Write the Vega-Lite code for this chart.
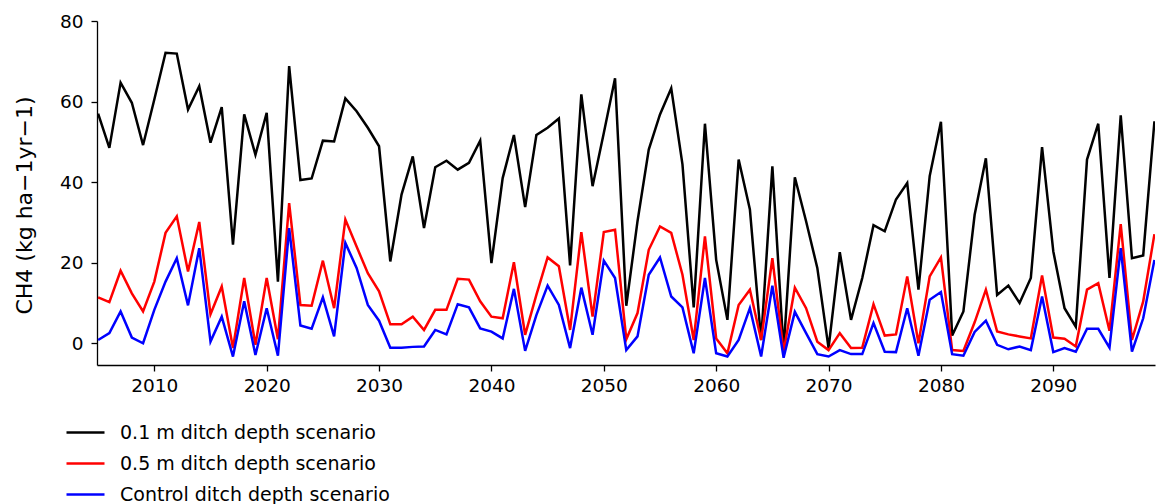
{
  "$schema": "https://vega.github.io/schema/vega-lite/v6.json",
  "autosize": {"type": "none"},
  "width": 1058,
  "height": 344,
  "padding": {"left": 97, "top": 21, "right": 5, "bottom": 139},
  "background": "white",
  "config": {
    "view": {"stroke": null},
    "font": "DejaVu Sans",
    "axis": {
      "grid": false,
      "domainColor": "#000000",
      "domainWidth": 1.3,
      "tickColor": "#000000",
      "tickWidth": 1.3,
      "tickSize": 6,
      "labelColor": "#000000",
      "labelFont": "DejaVu Sans",
      "labelFontSize": 18.5,
      "titleFont": "DejaVu Sans",
      "titleColor": "#000000",
      "titleFontWeight": "normal"
    },
    "legend": {
      "labelFont": "DejaVu Sans",
      "labelFontSize": 19,
      "labelColor": "#000000",
      "labelLimit": 500,
      "padding": 0
    }
  },
  "datasets": {
    "d01": [
      {"year": 2005, "value": 57.0}, {"year": 2006, "value": 48.5}, {"year": 2007, "value": 64.7}, {"year": 2008, "value": 59.7}, {"year": 2009, "value": 49.2},
      {"year": 2010, "value": 60.5}, {"year": 2011, "value": 72.1}, {"year": 2012, "value": 71.9}, {"year": 2013, "value": 58.0}, {"year": 2014, "value": 63.8},
      {"year": 2015, "value": 49.8}, {"year": 2016, "value": 58.6}, {"year": 2017, "value": 24.5}, {"year": 2018, "value": 56.8}, {"year": 2019, "value": 46.8},
      {"year": 2020, "value": 57.2}, {"year": 2021, "value": 15.3}, {"year": 2022, "value": 68.8}, {"year": 2023, "value": 40.5}, {"year": 2024, "value": 40.9},
      {"year": 2025, "value": 50.3}, {"year": 2026, "value": 50.1}, {"year": 2027, "value": 60.8}, {"year": 2028, "value": 57.6}, {"year": 2029, "value": 53.5},
      {"year": 2030, "value": 48.9}, {"year": 2031, "value": 20.3}, {"year": 2032, "value": 36.9}, {"year": 2033, "value": 46.4}, {"year": 2034, "value": 28.6},
      {"year": 2035, "value": 43.7}, {"year": 2036, "value": 45.3}, {"year": 2037, "value": 43.1}, {"year": 2038, "value": 44.8}, {"year": 2039, "value": 50.3},
      {"year": 2040, "value": 19.9}, {"year": 2041, "value": 41.0}, {"year": 2042, "value": 51.7}, {"year": 2043, "value": 33.8}, {"year": 2044, "value": 51.7},
      {"year": 2045, "value": 53.5}, {"year": 2046, "value": 55.8}, {"year": 2047, "value": 19.3}, {"year": 2048, "value": 61.8}, {"year": 2049, "value": 39.0},
      {"year": 2050, "value": 52.2}, {"year": 2051, "value": 65.8}, {"year": 2052, "value": 9.3}, {"year": 2053, "value": 30.3}, {"year": 2054, "value": 48.1},
      {"year": 2055, "value": 56.8}, {"year": 2056, "value": 63.3}, {"year": 2057, "value": 44.4}, {"year": 2058, "value": 8.9}, {"year": 2059, "value": 54.5},
      {"year": 2060, "value": 20.7}, {"year": 2061, "value": 5.8}, {"year": 2062, "value": 45.6}, {"year": 2063, "value": 33.2}, {"year": 2064, "value": 0.8},
      {"year": 2065, "value": 43.9}, {"year": 2066, "value": -1.7}, {"year": 2067, "value": 41.2}, {"year": 2068, "value": 30.3}, {"year": 2069, "value": 18.7},
      {"year": 2070, "value": -1.2}, {"year": 2071, "value": 22.6}, {"year": 2072, "value": 5.8}, {"year": 2073, "value": 16.2}, {"year": 2074, "value": 29.3},
      {"year": 2075, "value": 27.8}, {"year": 2076, "value": 35.7}, {"year": 2077, "value": 39.8}, {"year": 2078, "value": 13.3}, {"year": 2079, "value": 41.5},
      {"year": 2080, "value": 55.0}, {"year": 2081, "value": 1.9}, {"year": 2082, "value": 7.9}, {"year": 2083, "value": 31.9}, {"year": 2084, "value": 45.9},
      {"year": 2085, "value": 12.0}, {"year": 2086, "value": 14.3}, {"year": 2087, "value": 10.0}, {"year": 2088, "value": 16.2}, {"year": 2089, "value": 48.7},
      {"year": 2090, "value": 22.8}, {"year": 2091, "value": 8.7}, {"year": 2092, "value": 4.1}, {"year": 2093, "value": 45.6}, {"year": 2094, "value": 54.5},
      {"year": 2095, "value": 16.2}, {"year": 2096, "value": 56.6}, {"year": 2097, "value": 21.1}, {"year": 2098, "value": 21.8}, {"year": 2099, "value": 55.1}
    ],
    "d05": [
      {"year": 2005, "value": 11.4}, {"year": 2006, "value": 10.2}, {"year": 2007, "value": 18.0}, {"year": 2008, "value": 12.4}, {"year": 2009, "value": 7.9},
      {"year": 2010, "value": 15.3}, {"year": 2011, "value": 27.4}, {"year": 2012, "value": 31.5}, {"year": 2013, "value": 17.8}, {"year": 2014, "value": 30.1},
      {"year": 2015, "value": 7.2}, {"year": 2016, "value": 14.1}, {"year": 2017, "value": -1.2}, {"year": 2018, "value": 16.2}, {"year": 2019, "value": -0.4},
      {"year": 2020, "value": 16.2}, {"year": 2021, "value": 1.0}, {"year": 2022, "value": 34.8}, {"year": 2023, "value": 9.5}, {"year": 2024, "value": 9.3},
      {"year": 2025, "value": 20.5}, {"year": 2026, "value": 8.7}, {"year": 2027, "value": 30.7}, {"year": 2028, "value": 24.0}, {"year": 2029, "value": 17.4},
      {"year": 2030, "value": 12.9}, {"year": 2031, "value": 4.7}, {"year": 2032, "value": 4.7}, {"year": 2033, "value": 6.6}, {"year": 2034, "value": 3.3},
      {"year": 2035, "value": 8.3}, {"year": 2036, "value": 8.3}, {"year": 2037, "value": 16.0}, {"year": 2038, "value": 15.8}, {"year": 2039, "value": 10.4},
      {"year": 2040, "value": 6.6}, {"year": 2041, "value": 6.2}, {"year": 2042, "value": 20.1}, {"year": 2043, "value": 2.1}, {"year": 2044, "value": 12.0},
      {"year": 2045, "value": 21.3}, {"year": 2046, "value": 19.1}, {"year": 2047, "value": 3.3}, {"year": 2048, "value": 27.6}, {"year": 2049, "value": 6.6},
      {"year": 2050, "value": 27.6}, {"year": 2051, "value": 28.2}, {"year": 2052, "value": 1.0}, {"year": 2053, "value": 7.5}, {"year": 2054, "value": 23.2},
      {"year": 2055, "value": 29.0}, {"year": 2056, "value": 27.4}, {"year": 2057, "value": 17.0}, {"year": 2058, "value": 0.8}, {"year": 2059, "value": 26.5},
      {"year": 2060, "value": 1.2}, {"year": 2061, "value": -2.5}, {"year": 2062, "value": 9.5}, {"year": 2063, "value": 13.3}, {"year": 2064, "value": 0.8},
      {"year": 2065, "value": 21.1}, {"year": 2066, "value": -2.1}, {"year": 2067, "value": 13.8}, {"year": 2068, "value": 8.7}, {"year": 2069, "value": 0.4},
      {"year": 2070, "value": -1.7}, {"year": 2071, "value": 2.5}, {"year": 2072, "value": -1.2}, {"year": 2073, "value": -1.1}, {"year": 2074, "value": 9.7},
      {"year": 2075, "value": 1.9}, {"year": 2076, "value": 2.2}, {"year": 2077, "value": 16.6}, {"year": 2078, "value": 0.0}, {"year": 2079, "value": 16.6},
      {"year": 2080, "value": 21.3}, {"year": 2081, "value": -1.7}, {"year": 2082, "value": -1.9}, {"year": 2083, "value": 5.2}, {"year": 2084, "value": 13.3},
      {"year": 2085, "value": 2.9}, {"year": 2086, "value": 2.2}, {"year": 2087, "value": 1.7}, {"year": 2088, "value": 1.2}, {"year": 2089, "value": 16.8},
      {"year": 2090, "value": 1.4}, {"year": 2091, "value": 1.1}, {"year": 2092, "value": -0.8}, {"year": 2093, "value": 13.3}, {"year": 2094, "value": 14.9},
      {"year": 2095, "value": 3.1}, {"year": 2096, "value": 29.6}, {"year": 2097, "value": 0.8}, {"year": 2098, "value": 10.4}, {"year": 2099, "value": 27.1}
    ],
    "dctl": [
      {"year": 2005, "value": 0.8}, {"year": 2006, "value": 2.5}, {"year": 2007, "value": 7.9}, {"year": 2008, "value": 1.4}, {"year": 2009, "value": 0.0},
      {"year": 2010, "value": 8.3}, {"year": 2011, "value": 15.3}, {"year": 2012, "value": 21.1}, {"year": 2013, "value": 9.4}, {"year": 2014, "value": 23.6},
      {"year": 2015, "value": 0.4}, {"year": 2016, "value": 6.6}, {"year": 2017, "value": -3.3}, {"year": 2018, "value": 10.4}, {"year": 2019, "value": -2.9},
      {"year": 2020, "value": 8.7}, {"year": 2021, "value": -3.1}, {"year": 2022, "value": 28.6}, {"year": 2023, "value": 4.4}, {"year": 2024, "value": 3.6},
      {"year": 2025, "value": 11.4}, {"year": 2026, "value": 1.7}, {"year": 2027, "value": 24.9}, {"year": 2028, "value": 18.7}, {"year": 2029, "value": 9.5},
      {"year": 2030, "value": 5.6}, {"year": 2031, "value": -1.1}, {"year": 2032, "value": -1.1}, {"year": 2033, "value": -0.9}, {"year": 2034, "value": -0.8},
      {"year": 2035, "value": 3.3}, {"year": 2036, "value": 2.2}, {"year": 2037, "value": 9.7}, {"year": 2038, "value": 8.9}, {"year": 2039, "value": 3.7},
      {"year": 2040, "value": 2.9}, {"year": 2041, "value": 1.2}, {"year": 2042, "value": 13.5}, {"year": 2043, "value": -1.9}, {"year": 2044, "value": 7.0},
      {"year": 2045, "value": 14.3}, {"year": 2046, "value": 9.5}, {"year": 2047, "value": -1.2}, {"year": 2048, "value": 13.8}, {"year": 2049, "value": 2.1},
      {"year": 2050, "value": 20.5}, {"year": 2051, "value": 16.2}, {"year": 2052, "value": -1.7}, {"year": 2053, "value": 1.7}, {"year": 2054, "value": 17.0},
      {"year": 2055, "value": 21.3}, {"year": 2056, "value": 11.6}, {"year": 2057, "value": 8.9}, {"year": 2058, "value": -2.5}, {"year": 2059, "value": 16.2},
      {"year": 2060, "value": -2.5}, {"year": 2061, "value": -3.3}, {"year": 2062, "value": 0.8}, {"year": 2063, "value": 8.7}, {"year": 2064, "value": -3.3},
      {"year": 2065, "value": 14.3}, {"year": 2066, "value": -3.6}, {"year": 2067, "value": 7.8}, {"year": 2068, "value": 2.5}, {"year": 2069, "value": -2.7},
      {"year": 2070, "value": -3.3}, {"year": 2071, "value": -1.7}, {"year": 2072, "value": -2.7}, {"year": 2073, "value": -2.7}, {"year": 2074, "value": 5.0},
      {"year": 2075, "value": -2.1}, {"year": 2076, "value": -2.2}, {"year": 2077, "value": 8.7}, {"year": 2078, "value": -3.1}, {"year": 2079, "value": 10.8},
      {"year": 2080, "value": 12.7}, {"year": 2081, "value": -2.7}, {"year": 2082, "value": -3.1}, {"year": 2083, "value": 2.8}, {"year": 2084, "value": 5.6},
      {"year": 2085, "value": -0.4}, {"year": 2086, "value": -1.5}, {"year": 2087, "value": -0.8}, {"year": 2088, "value": -1.7}, {"year": 2089, "value": 11.6},
      {"year": 2090, "value": -2.2}, {"year": 2091, "value": -1.2}, {"year": 2092, "value": -2.1}, {"year": 2093, "value": 3.6}, {"year": 2094, "value": 3.6},
      {"year": 2095, "value": -1.1}, {"year": 2096, "value": 23.6}, {"year": 2097, "value": -2.1}, {"year": 2098, "value": 6.2}, {"year": 2099, "value": 20.7}
    ]
  },
  "encoding": {
    "x": {
      "field": "year",
      "type": "quantitative",
      "scale": {"domain": [2004.9, 2099.05], "nice": false, "zero": false},
      "axis": {"title": null, "values": [2010, 2020, 2030, 2040, 2050, 2060, 2070, 2080, 2090], "format": "d", "labelPadding": 5, "labelFlush": false}
    },
    "y": {
      "field": "value",
      "type": "quantitative",
      "scale": {"domain": [-5.4, 80], "nice": false, "zero": false},
      "axis": {"title": "CH4 (kg ha−1yr−1)", "titleFontSize": 22, "values": [0, 20, 40, 60, 80], "labelPadding": 8, "titleX": -61, "titleY": 184, "titleBaseline": "bottom", "labelFlush": false}
    }
  },
  "layer": [
    {
      "data": {"name": "d01"},
      "mark": {"type": "line", "strokeWidth": 2.5, "clip": true},
      "encoding": {"color": {"datum": "0.1 m ditch depth scenario"}}
    },
    {
      "data": {"name": "d05"},
      "mark": {"type": "line", "strokeWidth": 2.5, "clip": true},
      "encoding": {"color": {"datum": "0.5 m ditch depth scenario"}}
    },
    {
      "data": {"name": "dctl"},
      "mark": {"type": "line", "strokeWidth": 2.5, "clip": true},
      "encoding": {
        "color": {
          "datum": "Control ditch depth scenario",
          "scale": {"domain": ["0.1 m ditch depth scenario", "0.5 m ditch depth scenario", "Control ditch depth scenario"], "range": ["#000000", "#ff0000", "#0000ff"]},
          "legend": {
            "title": null,
            "orient": "none",
            "legendX": -32,
            "legendY": 391,
            "symbolType": "stroke",
            "symbolSize": 1444,
            "symbolStrokeWidth": 2.5,
            "labelOffset": 14,
            "rowPadding": -9
          }
        }
      }
    }
  ]
}
